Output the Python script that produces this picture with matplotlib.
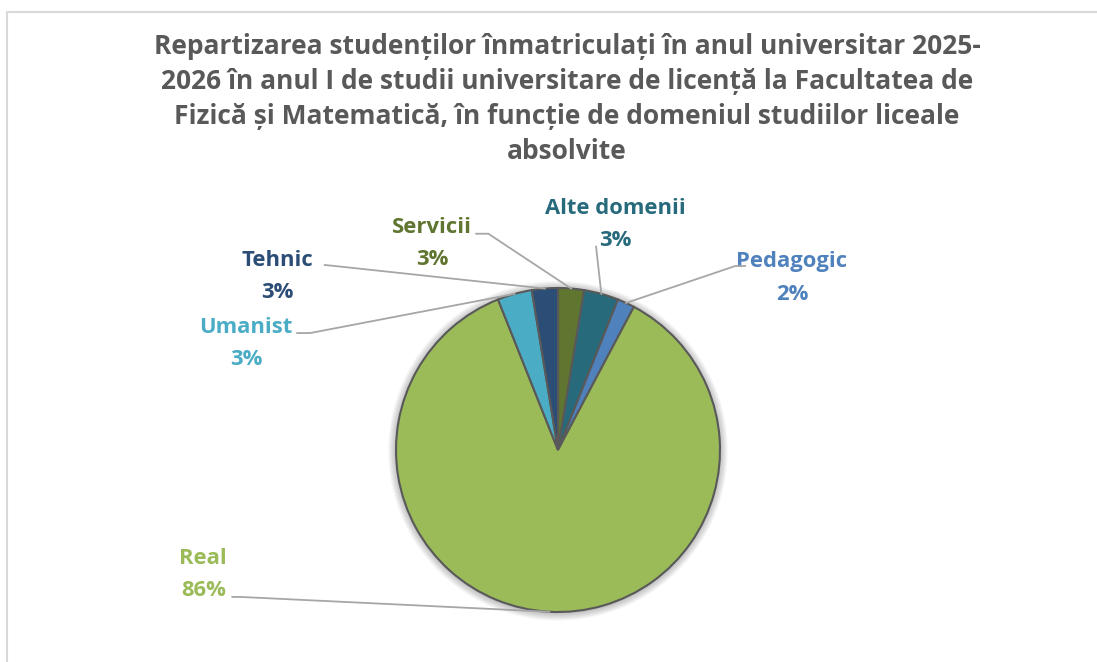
import numpy as np
import matplotlib.pyplot as plt
from matplotlib.patches import Circle, Rectangle

# data (order as drawn, clockwise from 12 o'clock)
categories = ["Servicii", "Alte domenii", "Pedagogic", "Real", "Umanist", "Tehnic"]
counts = [3, 4, 2, 100, 4, 3]
colors = ["#5f7530", "#276a7c", "#4f81bd", "#9bbb59", "#4bacc6", "#2c4d75"]

title = ("Repartizarea studenților înmatriculați în anul universitar 2025-\n"
         "2026 în anul I de studii universitare de licență la Facultatea de\n"
         "Fizică și Matematică, în funcție de domeniul studiilor liceale\n"
         "absolvite")

# label centres and leader start points, in pie-radius units
label_pos = {
    "Servicii": (-0.778, 1.275),
    "Alte domenii": (0.355, 1.39),
    "Pedagogic": (1.444, 1.062),
    "Real": (-2.19, -0.767),
    "Umanist": (-1.926, 0.655),
    "Tehnic": (-1.73, 1.07),
}
leader_start = {
    "Servicii": [(-0.505, 1.335), (-0.43, 1.335)],
    "Alte domenii": [(0.235, 1.255)],
    "Pedagogic": [(1.155, 1.136), (1.095, 1.136)],
    "Real": [(-2.01, -0.907), (-1.96, -0.907)],
    "Umanist": [(-1.61, 0.722), (-1.53, 0.722)],
    "Tehnic": [(-1.44, 1.142), (-1.38, 1.136)],
}

W, H = 1097, 662
fig = plt.figure(figsize=(W / 100, H / 100), dpi=100)
fig.patch.set_facecolor("white")

# chart border
fig.patches.append(Rectangle((7 / W, -0.1), 1.2, 1.1 - 12 / H, transform=fig.transFigure,
                             fill=False, edgecolor="#d9d9d9", linewidth=1.5))

cx, cy, r = 558, 450, 162
ax = fig.add_axes([(cx - r) / W, (H - cy - r) / H, 2 * r / W, 2 * r / H])

# soft shadow
for k in range(8):
    ax.add_patch(Circle((0, -0.005), 1.0 + 0.006 * (k + 1), facecolor="black",
                        alpha=0.03, edgecolor="none", zorder=0, clip_on=False))

wedges, _ = ax.pie(counts, colors=colors, startangle=90, counterclock=False,
                   radius=1, wedgeprops=dict(edgecolor="#595959", linewidth=1.5),
                   frame=True)
ax.set_xlim(-1, 1)
ax.set_ylim(-1, 1)
ax.set_aspect("auto")
ax.axis("off")

total = sum(counts)
for w, cat, col, n in zip(wedges, categories, colors, counts):
    mid = np.deg2rad((w.theta1 + w.theta2) / 2)
    rim = (np.cos(mid), np.sin(mid))
    pts = leader_start[cat] + [rim]
    xs, ys = zip(*pts)
    ax.plot(xs, ys, color="#a6a6a6", linewidth=1.3, clip_on=False, zorder=5)
    lx, ly = label_pos[cat]
    ax.text(lx, ly, f"{cat}\n{n / total * 100:.0f}%", color=col, fontsize=15.8,
            fontweight="bold", family="Open Sans", ha="center", va="center",
            linespacing=1.7, clip_on=False)

fig.text(567 / W, 1 - 99 / H, title, ha="center", va="center", fontsize=19,
         fontweight="bold", family="Open Sans", color="#595959", linespacing=1.38)

fig.savefig("out.png", dpi=100)
